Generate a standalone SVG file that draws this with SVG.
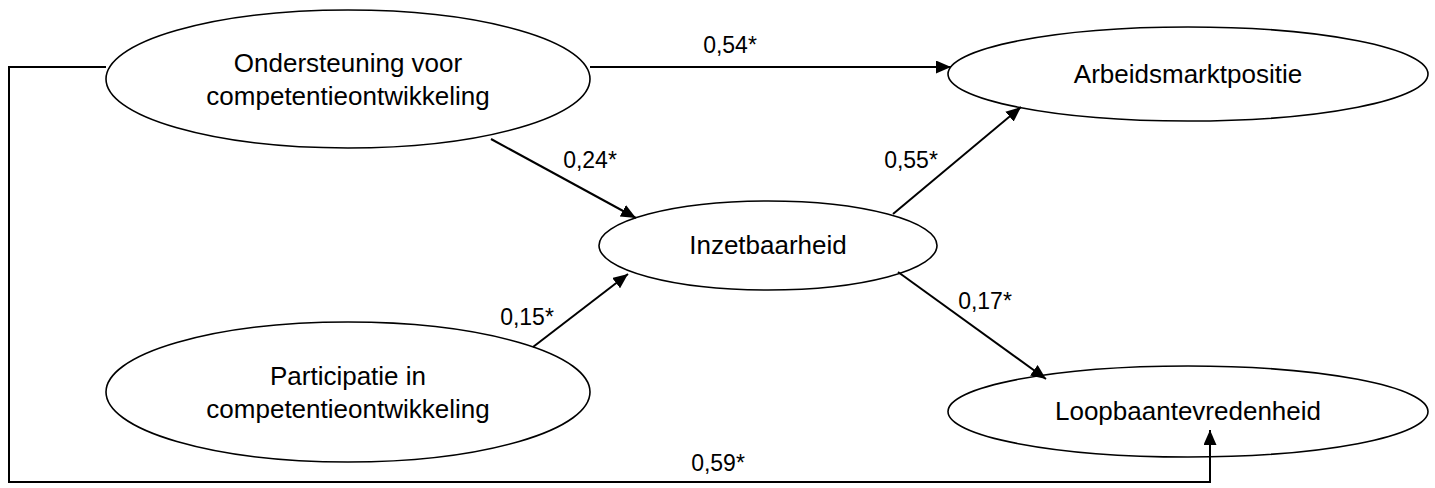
<svg xmlns="http://www.w3.org/2000/svg" width="1435" height="488" viewBox="0 0 1435 488">
<style>
.node{fill:#fff;stroke:#000;stroke-width:1.6}
.t{font-family:"Liberation Sans",Arial,sans-serif;font-size:26px;fill:#000;text-anchor:middle}
.c{fill:none;stroke:#000;stroke-width:2}
.l{font-family:"Liberation Sans",Arial,sans-serif;font-size:23px;fill:#000;text-anchor:middle}
</style>
<defs>
<marker id="ah" markerWidth="15" markerHeight="13" refX="15" refY="6.5" orient="auto" markerUnits="userSpaceOnUse">
<path d="M0,0 L15,6.5 L0,13 Z" fill="#000"/>
</marker>
</defs>
<g id="n1">
<ellipse class="node" cx="348" cy="79" rx="242" ry="69"/>
<text class="t" x="348" y="72">Ondersteuning voor</text>
<text class="t" x="348" y="105">competentieontwikkeling</text>
</g>
<g id="n2">
<ellipse class="node" cx="1188" cy="74" rx="240" ry="47"/>
<text class="t" x="1188" y="83">Arbeidsmarktpositie</text>
</g>
<g id="n3">
<ellipse class="node" cx="768" cy="245.5" rx="169" ry="44.5"/>
<text class="t" x="768" y="254">Inzetbaarheid</text>
</g>
<g id="n4">
<ellipse class="node" cx="348" cy="392" rx="242" ry="70"/>
<text class="t" x="348" y="385">Participatie in</text>
<text class="t" x="348" y="418">competentieontwikkeling</text>
</g>
<g id="n5">
<ellipse class="node" cx="1188" cy="411.5" rx="240" ry="45.5"/>
<text class="t" x="1188" y="420">Loopbaantevredenheid</text>
</g>
<g id="connectors">
<polyline class="c" points="106,67 9,67 9,482 1210,482 1210,430" marker-end="url(#ah)" stroke-width="1.6"/>
<line class="c" x1="590" y1="67" x2="951" y2="67" marker-end="url(#ah)"/>
<line class="c" x1="491" y1="139" x2="636" y2="218" marker-end="url(#ah)"/>
<line class="c" x1="533" y1="347" x2="628" y2="274" marker-end="url(#ah)"/>
<line class="c" x1="893" y1="214" x2="1021" y2="107" marker-end="url(#ah)"/>
<line class="c" x1="898" y1="272" x2="1046" y2="379" marker-end="url(#ah)"/>
<text class="l" x="730" y="53">0,54*</text>
<text class="l" x="590" y="168">0,24*</text>
<text class="l" x="527" y="325">0,15*</text>
<text class="l" x="911" y="168">0,55*</text>
<text class="l" x="985" y="309">0,17*</text>
<text class="l" x="718" y="471">0,59*</text>
</g>
</svg>
